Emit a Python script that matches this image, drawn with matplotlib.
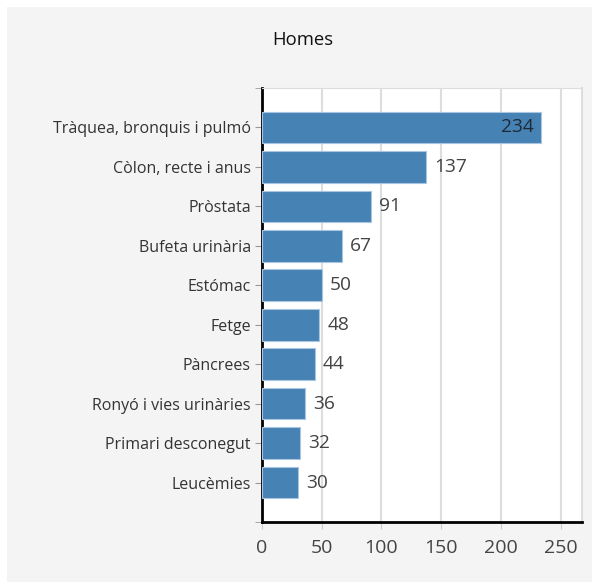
import matplotlib.pyplot as plt
from matplotlib.patches import Rectangle

plt.rcParams['font.family'] = ['Open Sans', 'DejaVu Sans']

categories = ["Tràquea, bronquis i pulmó", "Còlon, recte i anus", "Pròstata",
              "Bufeta urinària", "Estómac", "Fetge", "Pàncrees",
              "Ronyó i vies urinàries", "Primari desconegut", "Leucèmies"]
values = [234, 137, 91, 67, 50, 48, 44, 36, 32, 30]
xticks = [0, 50, 100, 150, 200, 250]

fig = plt.figure(figsize=(5.92, 5.82), dpi=100)
fig.patch.set_facecolor('white')
# grey panel behind the chart
fig.patches.append(Rectangle((7/592, 0), 585/592, 575/582,
                             transform=fig.transFigure, facecolor='#f4f4f4',
                             edgecolor='none', zorder=-10))

ax = fig.add_axes([262/592, 1 - 522/582, 320/592, 434/582])
ax.set_facecolor('white')

ypos = list(range(len(categories)))
ax.barh(ypos, values, height=0.8, color='#4682b4', edgecolor='#a8c6e2',
        linewidth=0.8, zorder=3)

for y, v in zip(ypos, values):
    if v > 200:
        ax.text(v - 6, y, str(v), ha='right', va='center', fontsize=13.8,
                color='#1e2a38', zorder=4)
    else:
        ax.text(v + 7, y, str(v), ha='left', va='center', fontsize=13.8,
                color='#444444', zorder=4)

ax.set_ylim(len(categories), -1)
ax.set_xlim(0, 268)
ax.set_yticks(ypos)
ax.set_yticklabels(categories, fontsize=11.5, color='#333333')
ax.set_yticks([-1, len(categories)], minor=True)
ax.set_xticks(xticks)
ax.set_xticklabels([str(t) for t in xticks], fontsize=14, color='#444444')
ax.tick_params(axis='y', which='both', length=5, color='#999999', pad=3)
ax.tick_params(axis='x', length=5, color='#cccccc', pad=7)

ax.grid(axis='x', color='#dddddd', linewidth=1.5, zorder=0)
ax.spines['left'].set_color('black')
ax.spines['left'].set_linewidth(2)
ax.spines['bottom'].set_color('black')
ax.spines['bottom'].set_linewidth(2)
ax.spines['top'].set_color('#dddddd')
ax.spines['right'].set_color('#dddddd')
ax.spines['right'].set_linewidth(1.5)

fig.text(303/592, 1 - 40/582, "Homes", ha='center', va='center',
         fontsize=13.3, color='#111111')

fig.savefig('out.png', dpi=100)
